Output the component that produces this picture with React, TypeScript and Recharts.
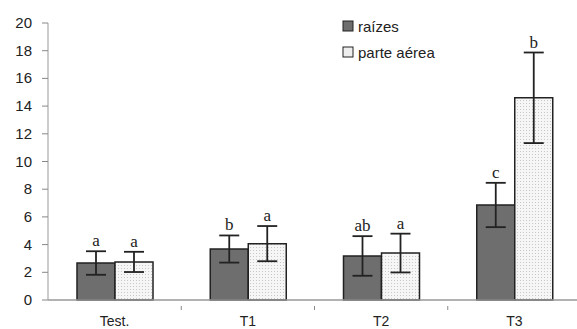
import React from 'react';
import { BarChart, Bar, XAxis, YAxis, ErrorBar, LabelList } from 'recharts';

const categories = ['Test.', 'T1', 'T2', 'T3'];
const roots = [2.67, 3.68, 3.18, 6.86];
const rootsErr = [0.85, 0.98, 1.43, 1.6];
const rootsLetters = ['a', 'b', 'ab', 'c'];
const shoots = [2.75, 4.07, 3.39, 14.6];
const shootsErr = [0.73, 1.27, 1.4, 3.27];
const shootsLetters = ['a', 'a', 'a', 'b'];
const yTicks = [0, 2, 4, 6, 8, 10, 12, 14, 16, 18, 20];
const legendItems = ['raízes', 'parte aérea'];

const data = categories.map((name, i) => ({
  name,
  roots: roots[i],
  rootsErr: rootsErr[i],
  shoots: shoots[i],
  shootsErr: shootsErr[i],
}));

const W = 577;
const H = 329;
const LEFT = 48;
const RIGHT = -4;
const BAND = (W - LEFT - RIGHT) / categories.length;
const SANS = '"Liberation Sans", Arial, sans-serif';
const SERIF = '"Liberation Serif", "Times New Roman", serif';
const DARK = '#6e6e6e';
const LIGHT_SWATCH = '#eeeeee';

function makeLetterLabel(errs: number[], letters: string[]) {
  return (props: any) => {
    const { x, y, width, height, value, index } = props;
    if (value == null) return null;
    const pxPerUnit = height / value;
    const top = y - errs[index] * pxPerUnit;
    return (
      <text x={x + width / 2} y={top - 5} textAnchor="middle" fontFamily={SERIF} fontSize={17} fill="#222">
        {letters[index]}
      </text>
    );
  };
}

function CategoryTick(props: any) {
  const { x, y, payload } = props;
  return (
    <g>
      <line x1={x + BAND / 2} x2={x + BAND / 2} y1={y - 2} y2={y + 2} stroke="#888" />
      <text x={x} y={y + 18} textAnchor="middle" fontFamily={SANS} fontSize={14} fill="#222">
        {payload.value}
      </text>
    </g>
  );
}

function ValueTick(props: any) {
  const { x, y, payload } = props;
  return (
    <text x={x - 8} y={y + 5} textAnchor="end" fontFamily={SANS} fontSize={15} fill="#222">
      {payload.value}
    </text>
  );
}

export default function App() {
  const swatches = [DARK, LIGHT_SWATCH];
  return (
    <div style={{ position: 'absolute', left: 0, top: 0, width: W, height: H, background: '#fff' }}>
      <BarChart
        width={W}
        height={H}
        data={data}
        margin={{ top: 23, right: RIGHT, left: 0, bottom: 4 }}
        barGap={0}
        barSize={38}
      >
        <defs>
          <pattern id="dots" width="3" height="3" patternUnits="userSpaceOnUse">
            <rect width="3" height="3" fill="#f6f6f6" />
            <rect x="1" y="1" width="1" height="1" fill="#c8c8c8" />
          </pattern>
        </defs>
        <XAxis
          dataKey="name"
          height={25}
          tick={<CategoryTick />}
          tickLine={false}
          axisLine={{ stroke: '#999', strokeWidth: 1.5 }}
          interval={0}
        />
        <YAxis
          width={48}
          domain={[0, 20]}
          ticks={yTicks}
          interval={0}
          tickSize={6}
          tickLine={{ stroke: '#888' }}
          axisLine={{ stroke: '#999' }}
          tick={<ValueTick />}
        />
        <Bar dataKey="roots" name="raízes" fill={DARK} stroke="#222" strokeWidth={1.5} isAnimationActive={false}>
          <ErrorBar dataKey="rootsErr" width={10} stroke="#222" strokeWidth={1.8} />
          <LabelList dataKey="roots" content={makeLetterLabel(rootsErr, rootsLetters)} />
        </Bar>
        <Bar dataKey="shoots" name="parte aérea" fill="url(#dots)" stroke="#222" strokeWidth={1.5} isAnimationActive={false}>
          <ErrorBar dataKey="shootsErr" width={10} stroke="#222" strokeWidth={1.8} />
          <LabelList dataKey="shoots" content={makeLetterLabel(shootsErr, shootsLetters)} />
        </Bar>
      </BarChart>
      <div style={{ position: 'absolute', left: 342, top: 13, fontFamily: SANS, fontSize: 15, color: '#222' }}>
        {legendItems.map((label, i) => (
          <div key={label} style={{ display: 'flex', alignItems: 'center', height: 26 }}>
            <svg width={12} height={12} style={{ marginRight: 4 }}>
              <rect x={1} y={1} width={10} height={10} fill={swatches[i]} stroke="#222" strokeWidth={1} />
            </svg>
            {label}
          </div>
        ))}
      </div>
    </div>
  );
}
